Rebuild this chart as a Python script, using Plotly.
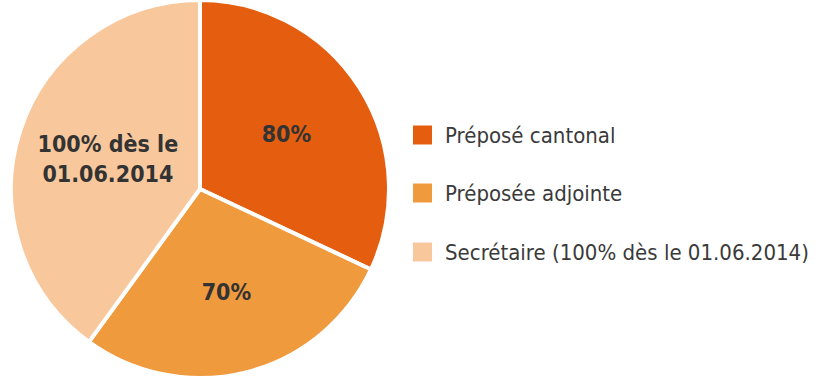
import plotly.graph_objects as go

# Staffing breakdown of the office
labels = ["Préposé cantonal", "Préposée adjointe", "Secrétaire (100% dès le 01.06.2014)"]
rates = [80, 70, 100]
slice_text = ["80%", "70%", "100% dès le<br>01.06.2014"]
colors = ["#E55E10", "#F09A3E", "#F8C89C"]

W, H = 823, 378
cx, r = 200, 189
FONT = "Liberation Sans Narrow, DejaVu Sans Condensed, Arial Narrow, sans-serif"

fig = go.Figure(
    go.Pie(
        labels=labels,
        values=rates,
        text=slice_text,
        textinfo="text",
        textposition="inside",
        insidetextorientation="horizontal",
        sort=False,
        direction="clockwise",
        rotation=0,
        marker=dict(colors=colors, line=dict(color="white", width=4)),
        textfont=dict(family=FONT, size=23, color="#333333", weight="bold"),
        domain=dict(x=[(cx - r) / W, (cx + r) / W], y=[0, 1]),
        showlegend=False,
        hoverinfo="label+value",
    )
)

# Hand-built legend: colored squares with labels
legend_x0 = 413
legend_rows = [135, 193, 252]
sq = 19
for lab, col, yc in zip(labels, colors, legend_rows):
    fig.add_shape(
        type="rect", xref="paper", yref="paper",
        x0=legend_x0 / W, x1=(legend_x0 + sq) / W,
        y0=1 - (yc + sq / 2) / H, y1=1 - (yc - sq / 2) / H,
        fillcolor=col, line=dict(width=0),
    )
    fig.add_annotation(
        x=(legend_x0 + sq + 11) / W, y=1 - yc / H, xref="paper", yref="paper",
        text=lab, showarrow=False, xanchor="left", yanchor="middle",
        font=dict(family=FONT, size=22, color="#3a3a3a"),
    )

fig.update_layout(
    width=W, height=H,
    margin=dict(l=0, r=0, t=0, b=0),
    paper_bgcolor="white",
    plot_bgcolor="white",
)

fig.write_html("out.html")
